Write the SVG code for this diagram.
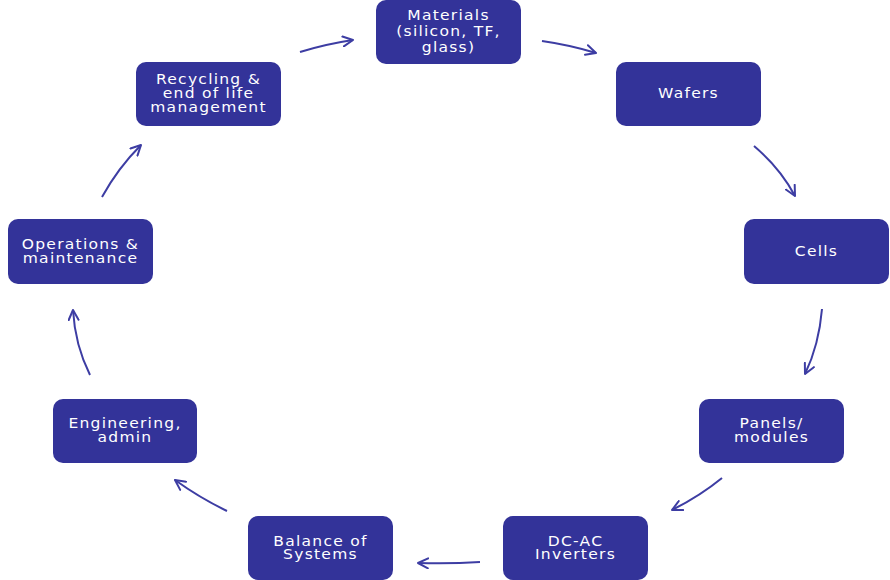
<svg xmlns="http://www.w3.org/2000/svg" width="890" height="580" viewBox="0 0 890 580">
<defs>
<style>
.n{fill:#333399;}
.t{fill:#ffffff;font-family:"DejaVu Sans",Verdana,sans-serif;font-size:13.5px;letter-spacing:1.1px;text-anchor:middle;}
.c{fill:none;stroke:#3d3da3;stroke-width:2;marker-end:url(#ah);}
</style>
<marker id="ah" viewBox="0 0 12 12" refX="11" refY="6" markerWidth="12" markerHeight="12" markerUnits="userSpaceOnUse" orient="auto">
<path d="M1,1 L11,6 L1,11" fill="none" stroke="#3d3da3" stroke-width="2" stroke-linecap="round" stroke-linejoin="round"/>
</marker>
</defs>
<rect width="890" height="580" fill="#ffffff"/>
<g id="connectors">
<path class="c" d="M300,52 Q326,44 353,40"/>
<path class="c" d="M542,41 Q570,45 596,53"/>
<path class="c" d="M754,146 Q780,168 795,196"/>
<path class="c" d="M822,309 Q819,345 805,374"/>
<path class="c" d="M722,478 Q700,496 672,510"/>
<path class="c" d="M480,562 Q450,564 418,563"/>
<path class="c" d="M227,511 Q200,498 175,480"/>
<path class="c" d="M90,375 Q75,345 73,310"/>
<path class="c" d="M102,197 Q118,168 141,145"/>
</g>
<g id="materials"><rect class="n" x="376" y="0" width="145" height="64" rx="10"/><text class="t" transform="translate(448.5,0) scale(1.15,1)"><tspan x="0" y="20">Materials</tspan><tspan x="0" y="36.5">(silicon, TF,</tspan><tspan x="0" y="52.5">glass)</tspan></text></g>
<g id="wafers"><rect class="n" x="616" y="62" width="145" height="64" rx="10"/><text class="t" transform="translate(688.5,0) scale(1.15,1)" x="0" y="98">Wafers</text></g>
<g id="cells"><rect class="n" x="744" y="219" width="145" height="65" rx="10"/><text class="t" transform="translate(816.5,0) scale(1.15,1)" x="0" y="256">Cells</text></g>
<g id="panels"><rect class="n" x="699" y="399" width="145" height="64" rx="10"/><text class="t" transform="translate(771.5,0) scale(1.15,1)"><tspan x="0" y="428">Panels/</tspan><tspan x="0" y="442">modules</tspan></text></g>
<g id="inverters"><rect class="n" x="503" y="516" width="145" height="64" rx="10"/><text class="t" transform="translate(575.5,0) scale(1.15,1)"><tspan x="0" y="546">DC-AC</tspan><tspan x="0" y="559.5">Inverters</tspan></text></g>
<g id="bos"><rect class="n" x="248" y="516" width="145" height="64" rx="10"/><text class="t" transform="translate(320.5,0) scale(1.15,1)"><tspan x="0" y="546">Balance of</tspan><tspan x="0" y="559.5">Systems</tspan></text></g>
<g id="engineering"><rect class="n" x="53" y="399" width="144" height="64" rx="10"/><text class="t" transform="translate(125,0) scale(1.15,1)"><tspan x="0" y="428">Engineering,</tspan><tspan x="0" y="442">admin</tspan></text></g>
<g id="operations"><rect class="n" x="8" y="219" width="145" height="65" rx="10"/><text class="t" transform="translate(80.5,0) scale(1.15,1)"><tspan x="0" y="249">Operations &amp;</tspan><tspan x="0" y="263">maintenance</tspan></text></g>
<g id="recycling"><rect class="n" x="136" y="62" width="145" height="64" rx="10"/><text class="t" transform="translate(208.5,0) scale(1.15,1)"><tspan x="0" y="84">Recycling &amp;</tspan><tspan x="0" y="98">end of life</tspan><tspan x="0" y="112.5">management</tspan></text></g>
</svg>
